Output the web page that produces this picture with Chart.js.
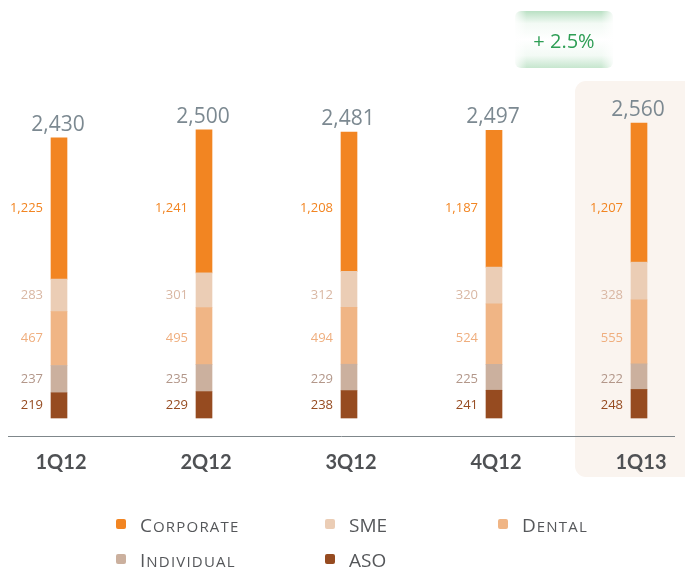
<!DOCTYPE html>
<html>
<head>
<meta charset="utf-8">
<script src="https://cdn.jsdelivr.net/npm/chart.js@4/dist/chart.umd.min.js"></script>
<style>
html,body{margin:0;padding:0;background:#fff;}
canvas{display:block;}
</style>
</head>
<body>
<canvas id="c" width="685" height="567"></canvas>
<script>
const categories = ['1Q12','2Q12','3Q12','4Q12','1Q13'];
const aso        = [219, 229, 238, 241, 248];
const individual = [237, 235, 229, 225, 222];
const dental     = [467, 495, 494, 524, 555];
const sme        = [283, 301, 312, 320, 328];
const corporate  = [1225, 1241, 1208, 1187, 1207];
const totals     = [2430, 2500, 2481, 2497, 2560];
const growthLabel = '+ 2.5%';

const seriesDefs = [
  {label:'ASO',        data:aso,        color:'#964B20', text:'#964B20', caps:'all'},
  {label:'Individual', data:individual, color:'#CBB09E', text:'#B3978A', caps:'small'},
  {label:'Dental',     data:dental,     color:'#F0B585', text:'#EFAE7E', caps:'small'},
  {label:'SME',        data:sme,        color:'#EBCDB5', text:'#D9B7A3', caps:'all'},
  {label:'Corporate',  data:corporate,  color:'#F28522', text:'#F28522', caps:'small'}
];
const legendOrder = ['Corporate','SME','Dental','Individual','ASO'];
const legendPos = [[116,524],[325,524],[498,524],[116,559],[325,559]];

const fmt = v => v.toLocaleString('en-US');

const decor = {
  id:'decor',
  beforeDatasetsDraw(chart){
    const ctx = chart.ctx;
    ctx.save();
    ctx.fillStyle = '#FAF4EF';
    ctx.beginPath();
    ctx.roundRect(575, 81, 120, 396, 11);
    ctx.fill();
    ctx.strokeStyle = '#7F878B';
    ctx.lineWidth = 1;
    ctx.beginPath();
    ctx.moveTo(8, 436.5);
    ctx.lineTo(675, 436.5);
    ctx.stroke();
    ctx.restore();
  },
  afterDatasetsDraw(chart){
    const ctx = chart.ctx;
    const xs = chart.scales.x, ys = chart.scales.y;
    ctx.save();
    // segment labels: one row per series, aligned on the first quarter's segment centre
    chart.data.datasets.forEach((ds, di) => {
      const meta = chart.getDatasetMeta(di);
      const b0 = meta.data[0];
      const rowY = (b0.y + b0.base) / 2;
      meta.data.forEach((bar, i) => {
        ctx.font = '13px "Open Sans"';
        ctx.fillStyle = seriesDefs[di].text;
        ctx.textAlign = 'right';
        ctx.textBaseline = 'middle';
        ctx.fillText(fmt(ds.data[i]), bar.x - bar.width/2 - 8, rowY);
      });
    });
    // totals
    const top = chart.getDatasetMeta(chart.data.datasets.length - 1);
    top.data.forEach((bar, i) => {
      ctx.font = '21px "Open Sans"';
      ctx.fillStyle = '#7C8991';
      ctx.textAlign = 'center';
      ctx.textBaseline = 'alphabetic';
      ctx.fillText(fmt(totals[i]), bar.x - 1, ys.getPixelForValue(totals[i]) - 7);
    });
    // category labels
    categories.forEach((c, i) => {
      const x = xs.getPixelForValue(i);
      ctx.font = 'bold 20px Lato';
      ctx.fillStyle = '#4F5154';
      ctx.textAlign = 'center';
      ctx.textBaseline = 'middle';
      ctx.fillText(c, x + 2, 463);
    });
    // growth badge
    const bx = 515, by = 11, bw = 98, bh = 57;
    const g = ctx.createLinearGradient(0, by, 0, by + bh);
    g.addColorStop(0, '#B9E0C3');
    g.addColorStop(0.22, '#F3FAF5');
    g.addColorStop(0.5, '#FFFFFF');
    g.addColorStop(0.78, '#F3FAF5');
    g.addColorStop(1, '#C6E6CE');
    ctx.fillStyle = g;
    ctx.beginPath();
    ctx.roundRect(bx, by, bw, bh, 6);
    ctx.fill();
    const gh = ctx.createLinearGradient(bx, 0, bx + bw, 0);
    gh.addColorStop(0, 'rgba(255,255,255,0.85)');
    gh.addColorStop(0.12, 'rgba(255,255,255,0)');
    gh.addColorStop(0.88, 'rgba(255,255,255,0)');
    gh.addColorStop(1, 'rgba(255,255,255,0.85)');
    ctx.fillStyle = gh;
    ctx.fillRect(bx, by, bw, bh);
    ctx.font = '20px "Open Sans"';
    ctx.fillStyle = '#2E9E55';
    ctx.textAlign = 'center';
    ctx.textBaseline = 'middle';
    ctx.fillText(growthLabel, bx + bw/2, 42);
    // legend
    legendOrder.forEach((name, k) => {
      const s = seriesDefs.find(d => d.label === name);
      const [lx, ly] = legendPos[k];
      ctx.fillStyle = s.color;
      ctx.beginPath();
      ctx.roundRect(lx, ly - 5, 10, 10, 2);
      ctx.fill();
      ctx.fillStyle = '#55575A';
      ctx.textAlign = 'left';
      ctx.textBaseline = 'alphabetic';
      let x = lx + 24;
      const base = ly + 8;
      if (s.caps === 'all') {
        ctx.font = '19px "Open Sans"';
        ctx.fillText(name.toUpperCase(), x, base);
      } else {
        ctx.font = '19px "Open Sans"';
        ctx.fillText(name[0], x, base);
        x += ctx.measureText(name[0]).width + 1;
        ctx.font = '15px "Open Sans"';
        for (const ch of name.slice(1).toUpperCase()) {
          ctx.fillText(ch, x, base);
          x += ctx.measureText(ch).width + 1.2;
        }
      }
    });
    ctx.restore();
  }
};

new Chart(document.getElementById('c'), {
  type: 'bar',
  data: {
    labels: categories,
    datasets: seriesDefs.map(s => ({
      label: s.label,
      data: s.data,
      backgroundColor: s.color,
      borderWidth: 0,
      barThickness: 16,
      clip: false
    }))
  },
  options: {
    responsive: false,
    animation: false,
    devicePixelRatio: 1,
    layout: {padding: {left: 59, right: 46, top: 72.4, bottom: 149}},
    plugins: {legend: {display: false}, tooltip: {enabled: false}},
    scales: {
      x: {stacked: true, display: false, offset: false},
      y: {stacked: true, display: false, min: 0, max: 3000}
    }
  },
  plugins: [decor]
});
</script>
</body>
</html>
